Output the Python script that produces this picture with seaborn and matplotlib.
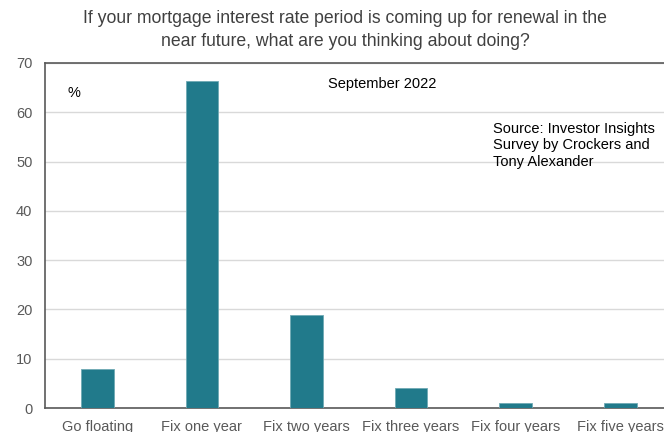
import matplotlib
matplotlib.use("Agg")
import matplotlib.pyplot as plt
import seaborn as sns
import pandas as pd

categories = ["Go floating", "Fix one year", "Fix two years", "Fix three years",
              "Fix four years", "Fix five years"]
values = [8.0, 66.3, 18.9, 4.0, 1.0, 1.0]
yticks = [0, 10, 20, 30, 40, 50, 60, 70]

sns.set_theme(style="white")
plt.rcParams['font.family'] = ['Liberation Sans', 'DejaVu Sans']

df = pd.DataFrame({"cat": categories, "val": values})

fig = plt.figure(figsize=(6.64, 4.32), dpi=100)
ax = fig.add_axes([45/664, 1 - 408/432, 627.6/664, 345/432])

sns.barplot(data=df, x="cat", y="val", color="#217A8B", saturation=1,
            width=0.31, ax=ax, edgecolor="#6FA9B4", linewidth=0.6, zorder=3)

ax.set_xlim(-0.5, 5.5)
ax.set_ylim(0, 70)
ax.set_yticks(yticks)
ax.set_yticklabels([str(t) for t in yticks])
ax.set_xlabel("")
ax.set_ylabel("")
ax.grid(axis="y", color="#D9D9D9", linewidth=1, zorder=0)
ax.grid(axis="x", visible=False)
for s in ["left", "bottom", "top"]:
    ax.spines[s].set_visible(True)
    ax.spines[s].set_color("#595959")
    ax.spines[s].set_linewidth(1.2)
ax.spines["right"].set_visible(False)
ax.tick_params(axis="both", length=0, colors="#595959", labelsize=10.5)
ax.tick_params(axis="y", pad=9)
ax.tick_params(axis="x", pad=9)

fig.text(345/664, 1 - 30/432,
         "If your mortgage interest rate period is coming up for renewal in the\nnear future, what are you thinking about doing?",
         ha="center", va="center", fontsize=12.7, color="#404040", linespacing=1.42)

fig.text(68/664, 1 - 93/432, "%", ha="left", va="center", fontsize=10.5, color="#000000")
fig.text(382/664, 1 - 84/432, "September 2022", ha="center", va="center",
         fontsize=10.5, color="#000000")
fig.text(493/664, 1 - 121.5/432, "Source: Investor Insights\nSurvey by Crockers and\nTony Alexander",
         ha="left", va="top", fontsize=10.5, color="#000000", linespacing=1.25)

fig.savefig("out.png", dpi=100)
